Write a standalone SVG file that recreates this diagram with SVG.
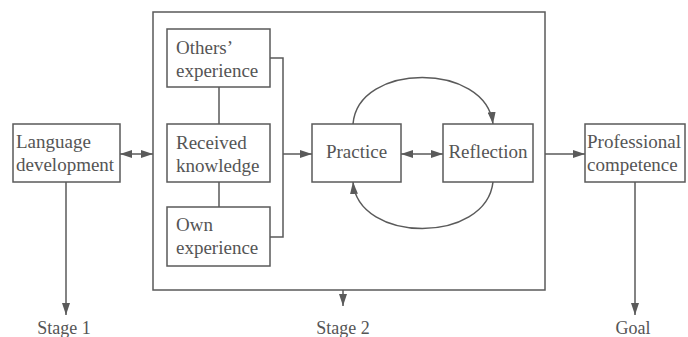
<svg xmlns="http://www.w3.org/2000/svg" width="688" height="337" viewBox="0 0 688 337">
<style>
.box{fill:#fff;stroke:#5a5a5a;stroke-width:1.5}
.ln{fill:none;stroke:#5a5a5a;stroke-width:1.5}
text{font-family:'Liberation Serif','Times New Roman',Times,serif;fill:#555}
.t{font-size:19px}
.c{text-anchor:middle}
.lab{font-size:18px;text-anchor:middle}
</style>
<defs>
<marker id="ah" viewBox="0 0 12 8" markerWidth="12" markerHeight="8" refX="12" refY="4" orient="auto-start-reverse" markerUnits="userSpaceOnUse">
<path d="M0,0 L12,4 L0,8 z" fill="#5a5a5a"/>
</marker>
</defs>
<rect width="688" height="337" fill="#fff"/>
<g id="stage2-frame"><rect class="box" x="153" y="12" width="392" height="278"/></g>
<g id="connectors">
<path class="ln" d="M219,87 V124 M219,182 V207"/>
<path class="ln" d="M270,58 H283 V237 H270"/>
<path class="ln" d="M283,154 H312" marker-end="url(#ah)"/>
<path class="ln" d="M120,154 H153" marker-start="url(#ah)" marker-end="url(#ah)"/>
<path class="ln" d="M401,154 H443" marker-start="url(#ah)" marker-end="url(#ah)"/>
<path class="ln" d="M545,154 H585" marker-end="url(#ah)"/>
<path class="ln" d="M66,182 V315" marker-end="url(#ah)"/>
<path class="ln" d="M343,290 V306" marker-end="url(#ah)"/>
<path class="ln" d="M635,182 V315" marker-end="url(#ah)"/>
<path class="ln" d="M353,124 C358,62 486,62 493,124" marker-end="url(#ah)"/>
<path class="ln" d="M493,182 C486,244 358,244 353,182" marker-end="url(#ah)"/>
</g>
<g id="others"><rect class="box" x="167" y="29" width="103" height="58"/><text class="t" x="176" y="54">Others’</text><text class="t" x="176" y="77">experience</text></g>
<g id="received"><rect class="box" x="167" y="124" width="103" height="58"/><text class="t" x="176" y="149">Received</text><text class="t" x="176" y="172">knowledge</text></g>
<g id="own"><rect class="box" x="167" y="207" width="103" height="59"/><text class="t" x="176" y="231">Own</text><text class="t" x="176" y="254">experience</text></g>
<g id="language"><rect class="box" x="13" y="124" width="107" height="58"/><text class="t" x="16" y="148">Language</text><text class="t" x="16" y="171">development</text></g>
<g id="practice"><rect class="box" x="312" y="124" width="89" height="58"/><text class="t c" x="356.5" y="158">Practice</text></g>
<g id="reflection"><rect class="box" x="443" y="124" width="90" height="58"/><text class="t c" x="488" y="158">Reflection</text></g>
<g id="professional"><rect class="box" x="585" y="124" width="100" height="58"/><text class="t" x="587" y="148">Professional</text><text class="t" x="587" y="171">competence</text></g>
<g id="labels">
<text class="lab" x="64" y="334">Stage 1</text>
<text class="lab" x="343" y="334">Stage 2</text>
<text class="lab" x="633" y="334">Goal</text>
</g>
</svg>
